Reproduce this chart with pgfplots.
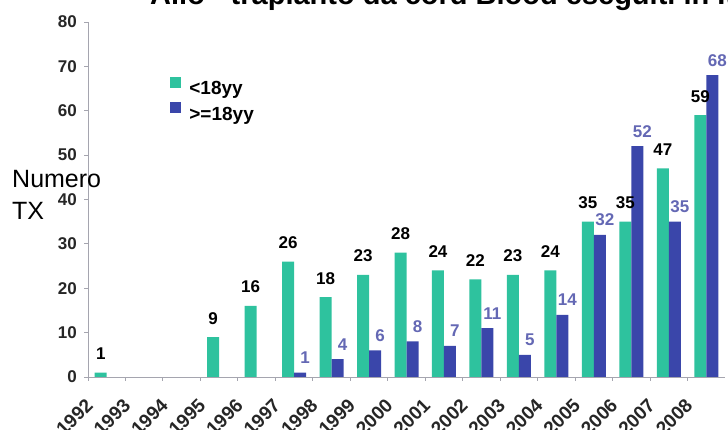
\documentclass[border=0pt]{standalone}
\usepackage{pgfplots}
\pgfplotsset{compat=1.18}
\usepackage{fontspec}
\setmainfont{Liberation Sans}
\definecolor{cgreen}{RGB}{46,194,158}
\definecolor{cblue}{RGB}{58,70,170}
\definecolor{clab}{RGB}{100,104,180}
\definecolor{caxis}{RGB}{165,165,175}
\newcommand\fs[1]{\fontsize{#1}{#1}\selectfont}
\begin{document}
\begin{tikzpicture}
\useasboundingbox (-88pt,-53pt) rectangle (640pt,377pt);
\node[anchor=base west, inner sep=0pt, font=\fs{29}\bfseries] at (62pt,372pt) {Allo - trapianto da cord Blood eseguiti in Italia};
\begin{axis}[
  at={(0pt,0pt)}, anchor=south west,
  scale only axis, width=637pt, height=355pt,
  ybar=0pt, bar width=12pt,
  xmin=1991.5, xmax=2008.5, ymin=0, ymax=80,
  clip=false,
  axis lines=left,
  axis line style={-, draw=caxis, line width=0.9pt},
  tick align=outside, major tick length=0pt, minor tick length=4pt,
  minor tick style={draw=caxis, line width=0.9pt},
  major tick style={draw=none},
  ytick={0,10,20,30,40,50,60,70,80},
  minor ytick={0,10,20,30,40,50,60,70,80},
  xtick={1992,1993,1994,1995,1996,1997,1998,1999,2000,2001,2002,2003,2004,2005,2006,2007,2008},
  xticklabels={1992,1993,1994,1995,1996,1997,1998,1999,2000,2001,2002,2003,2004,2005,2006,2007,2008},
  minor xtick={1991.5,1992.5,1993.5,1994.5,1995.5,1996.5,1997.5,1998.5,1999.5,2000.5,2001.5,2002.5,2003.5,2004.5,2005.5,2006.5,2007.5},
  xticklabel style={xshift=-22pt, yshift=-20pt, rotate=45, anchor=north east, inner sep=0pt, font=\fs{19}\bfseries, text=black!85},
  yticklabel style={inner sep=0pt, xshift=-11pt, font=\fs{17}\bfseries, text=black!85},
  /pgf/number format/assume math mode=true,
  every axis y label/.style={at={(axis description cs:-0.1193,0.5831)}, anchor=north west, align=left, inner sep=0pt, font=\fontsize{25}{32}\selectfont},
  ylabel={Numero\\TX},
  legend style={draw=none, fill=none, at={(axis description cs:0.129,0.846)}, anchor=north west, font=\fs{19}\bfseries, row sep=4pt, inner sep=0pt,
    /tikz/every odd column/.append style={column sep=6pt}},
  legend cell align=left,
]
\addplot[fill=cgreen, draw=none,
  legend image code/.code={\fill[cgreen] (0pt,1pt) rectangle (11pt,12pt);},
  nodes near coords,
  nodes near coords style={font=\fs{17}\bfseries, text=black, anchor=base, yshift=13pt, inner sep=0pt}]
  coordinates {(1992,1)(1995,9)(1996,16)(1997,26)(1998,18)(1999,23)(2000,28)(2001,24)(2002,22)(2003,23)(2004,24)(2005,35)(2006,35)(2007,47)(2008,59)};
\addlegendentry{<18yy}
\addplot[fill=cblue, draw=none,
  legend image code/.code={\fill[cblue] (0pt,1pt) rectangle (11pt,12pt);},
  nodes near coords,
  nodes near coords style={font=\fs{17}\bfseries, text=clab, anchor=base, xshift=5pt, yshift=9pt, inner sep=0pt}]
  coordinates {(1997,1)(1998,4)(1999,6)(2000,8)(2001,7)(2002,11)(2003,5)(2004,14)(2005,32)(2006,52)(2007,35)(2008,68)};
\addlegendentry{>=18yy}
\end{axis}
\end{tikzpicture}
\end{document}
